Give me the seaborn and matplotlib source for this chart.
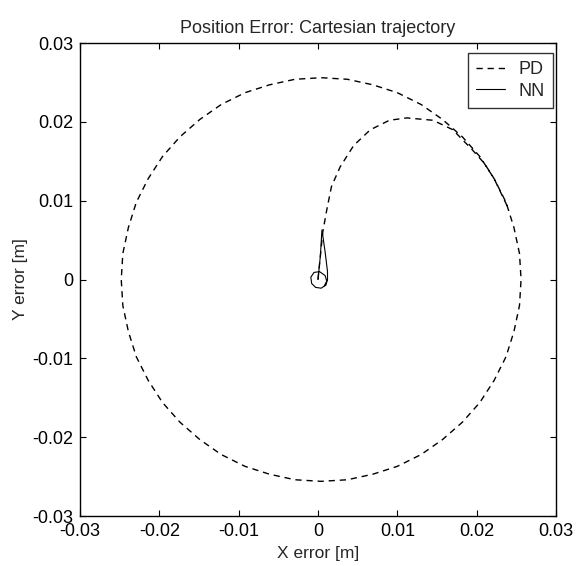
import numpy as np
import pandas as pd
import matplotlib
matplotlib.use("Agg")
import matplotlib.pyplot as plt
import seaborn as sns

# PD controller: error path spirals out from the origin and settles on a ~0.025 m circle (clockwise)
pd_x = [0.0000, 0.0003, 0.0006, 0.0011, 0.0017, 0.0028, 0.0045, 0.0066, 0.0090, 0.0112,
        0.0145, 0.0170, 0.0195, 0.0210, 0.0222, 0.0237, 0.0247, 0.0254, 0.0256, 0.0254,
        0.0247, 0.0237, 0.0222, 0.0204, 0.0182, 0.0157, 0.0130, 0.0100, 0.0069, 0.0037,
        0.0004, -0.0029, -0.0061, -0.0092, -0.0122, -0.0149, -0.0174, -0.0196, -0.0214,
        -0.0229, -0.0239, -0.0246, -0.0248, -0.0246, -0.0239, -0.0229, -0.0214, -0.0196,
        -0.0174, -0.0149, -0.0122, -0.0092, -0.0061, -0.0029, 0.0004, 0.0037, 0.0069,
        0.0100, 0.0130, 0.0157, 0.0182, 0.0204, 0.0222, 0.0241]
pd_y = [0.0000, 0.0030, 0.0060, 0.0088, 0.0118, 0.0143, 0.0170, 0.0190, 0.0202, 0.0205,
        0.0202, 0.0190, 0.0164, 0.0147, 0.0128, 0.0098, 0.0066, 0.0033, 0.0000, -0.0033,
        -0.0066, -0.0098, -0.0128, -0.0156, -0.0181, -0.0203, -0.0222, -0.0237, -0.0247,
        -0.0254, -0.0256, -0.0254, -0.0247, -0.0237, -0.0222, -0.0203, -0.0181, -0.0156,
        -0.0128, -0.0098, -0.0066, -0.0033, 0.0000, 0.0033, 0.0066, 0.0098, 0.0128,
        0.0156, 0.0181, 0.0203, 0.0222, 0.0237, 0.0247, 0.0254, 0.0256, 0.0254, 0.0247,
        0.0237, 0.0222, 0.0203, 0.0181, 0.0156, 0.0128, 0.0088]

# NN controller: error stays within a few millimetres of the origin
nn_x = [0.0000, 0.0003, 0.0005, 0.0009, 0.0012, 0.0012, 0.0010, 0.0004, -0.0003, -0.0008,
        -0.0009, -0.0005, 0.0002, 0.0009, 0.0011, 0.0008]
nn_y = [0.0000, 0.0030, 0.0063, 0.0035, 0.0010, 0.0000, -0.0007, -0.0011, -0.0010, -0.0005,
        0.0003, 0.0009, 0.0010, 0.0005, -0.0002, -0.0008]

axis_ticks = [-0.03, -0.02, -0.01, 0, 0.01, 0.02, 0.03]
tick_labels = ["-0.03", "-0.02", "-0.01", "0", "0.01", "0.02", "0.03"]

sns.set_theme(style="white")
plt.rcParams["font.family"] = ["Liberation Sans", "DejaVu Sans"]

fig = plt.figure(figsize=(5.78, 5.66), dpi=100)
ax = fig.add_axes([0.1384, 0.0883, 0.8235, 0.8357])

pd_df = pd.DataFrame({"x": pd_x, "y": pd_y})
nn_df = pd.DataFrame({"x": nn_x, "y": nn_y})

sns.lineplot(data=pd_df, x="x", y="y", sort=False, estimator=None, ax=ax,
             color="black", linewidth=1.0, label="PD")
ax.lines[-1].set_dashes([4.5, 3.5])
sns.lineplot(data=nn_df, x="x", y="y", sort=False, estimator=None, ax=ax,
             color="black", linewidth=0.8, label="NN")

ax.set_xlim(-0.03, 0.03)
ax.set_ylim(-0.03, 0.03)
ax.set_xticks(axis_ticks)
ax.set_xticklabels(tick_labels)
ax.set_yticks(axis_ticks)
ax.set_yticklabels(tick_labels)

ax.tick_params(axis="both", which="major", direction="in", length=4, width=0.8,
               top=True, right=True, bottom=True, left=True,
               labelsize=13, pad=5, colors="black")
for s in ax.spines.values():
    s.set_color("black")
    s.set_linewidth(1.0)

ax.set_title("Position Error: Cartesian trajectory", fontsize=13, pad=7)
ax.set_xlabel("X error [m]", fontsize=12.5, labelpad=4)
ax.set_ylabel("Y error [m]", fontsize=12.5, labelpad=3)

leg = ax.legend(loc="upper right", bbox_to_anchor=(0.9937, 0.979), borderaxespad=0,
                fontsize=13, frameon=True, fancybox=False, edgecolor="black",
                handlelength=1.6, borderpad=0.45, labelspacing=0.25, handletextpad=0.75)
leg.get_frame().set_linewidth(1.0)

fig.savefig("out.png", dpi=100)
